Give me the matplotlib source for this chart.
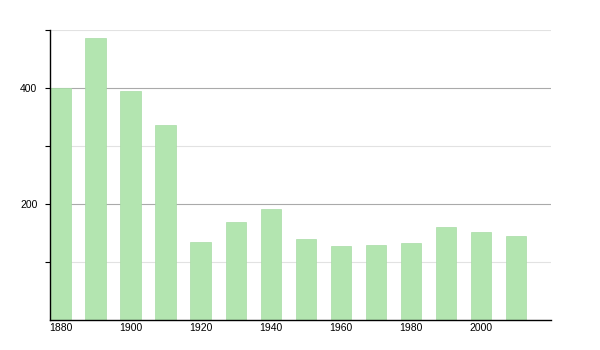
import numpy as np
import matplotlib.pyplot as plt

years = [1880, 1890, 1900, 1910, 1920, 1930, 1940, 1950, 1960, 1970, 1980, 1990, 2000, 2010]
population = [400, 487, 395, 336, 134, 169, 191, 140, 128, 129, 133, 160, 152, 145]
tick_years = [1880, 1900, 1920, 1940, 1960, 1980, 2000]

plt.rcParams['font.family'] = ['Liberation Sans', 'DejaVu Sans']

fig = plt.figure(figsize=(6, 3.5), dpi=100)
ax = fig.add_axes([50/600, 30/350, 501/600, 290/350])

#网格线: 主线 200/400, 次线 100/300/500
for v in [100, 300, 500]:
    ax.axhline(v, color='#e2e2e2', lw=0.8, zorder=0)
for v in [200, 400]:
    ax.axhline(v, color='#aaaaaa', lw=0.8, zorder=0)

ax.bar(years, population, width=5.8, color='#b3e5b0',
       edgecolor='#a8dca5', linewidth=0.5, zorder=2)

ax.set_xlim(1877, 2020)
ax.set_ylim(0, 500)

ax.set_yticks([200, 400])
ax.set_yticks([100, 300, 500], minor=True)
ax.set_xticks(tick_years)
ax.set_xticklabels([str(y) for y in tick_years])

ax.spines['right'].set_visible(False)
ax.spines['top'].set_visible(False)
ax.spines['left'].set_linewidth(1)
ax.spines['bottom'].set_linewidth(1)

ax.tick_params(axis='y', which='both', direction='out', length=3.6, width=0.8, labelsize=7.5, pad=5.5)
ax.tick_params(axis='x', length=0, labelsize=7.5, pad=2)

fig.savefig('out.png', dpi=100)
